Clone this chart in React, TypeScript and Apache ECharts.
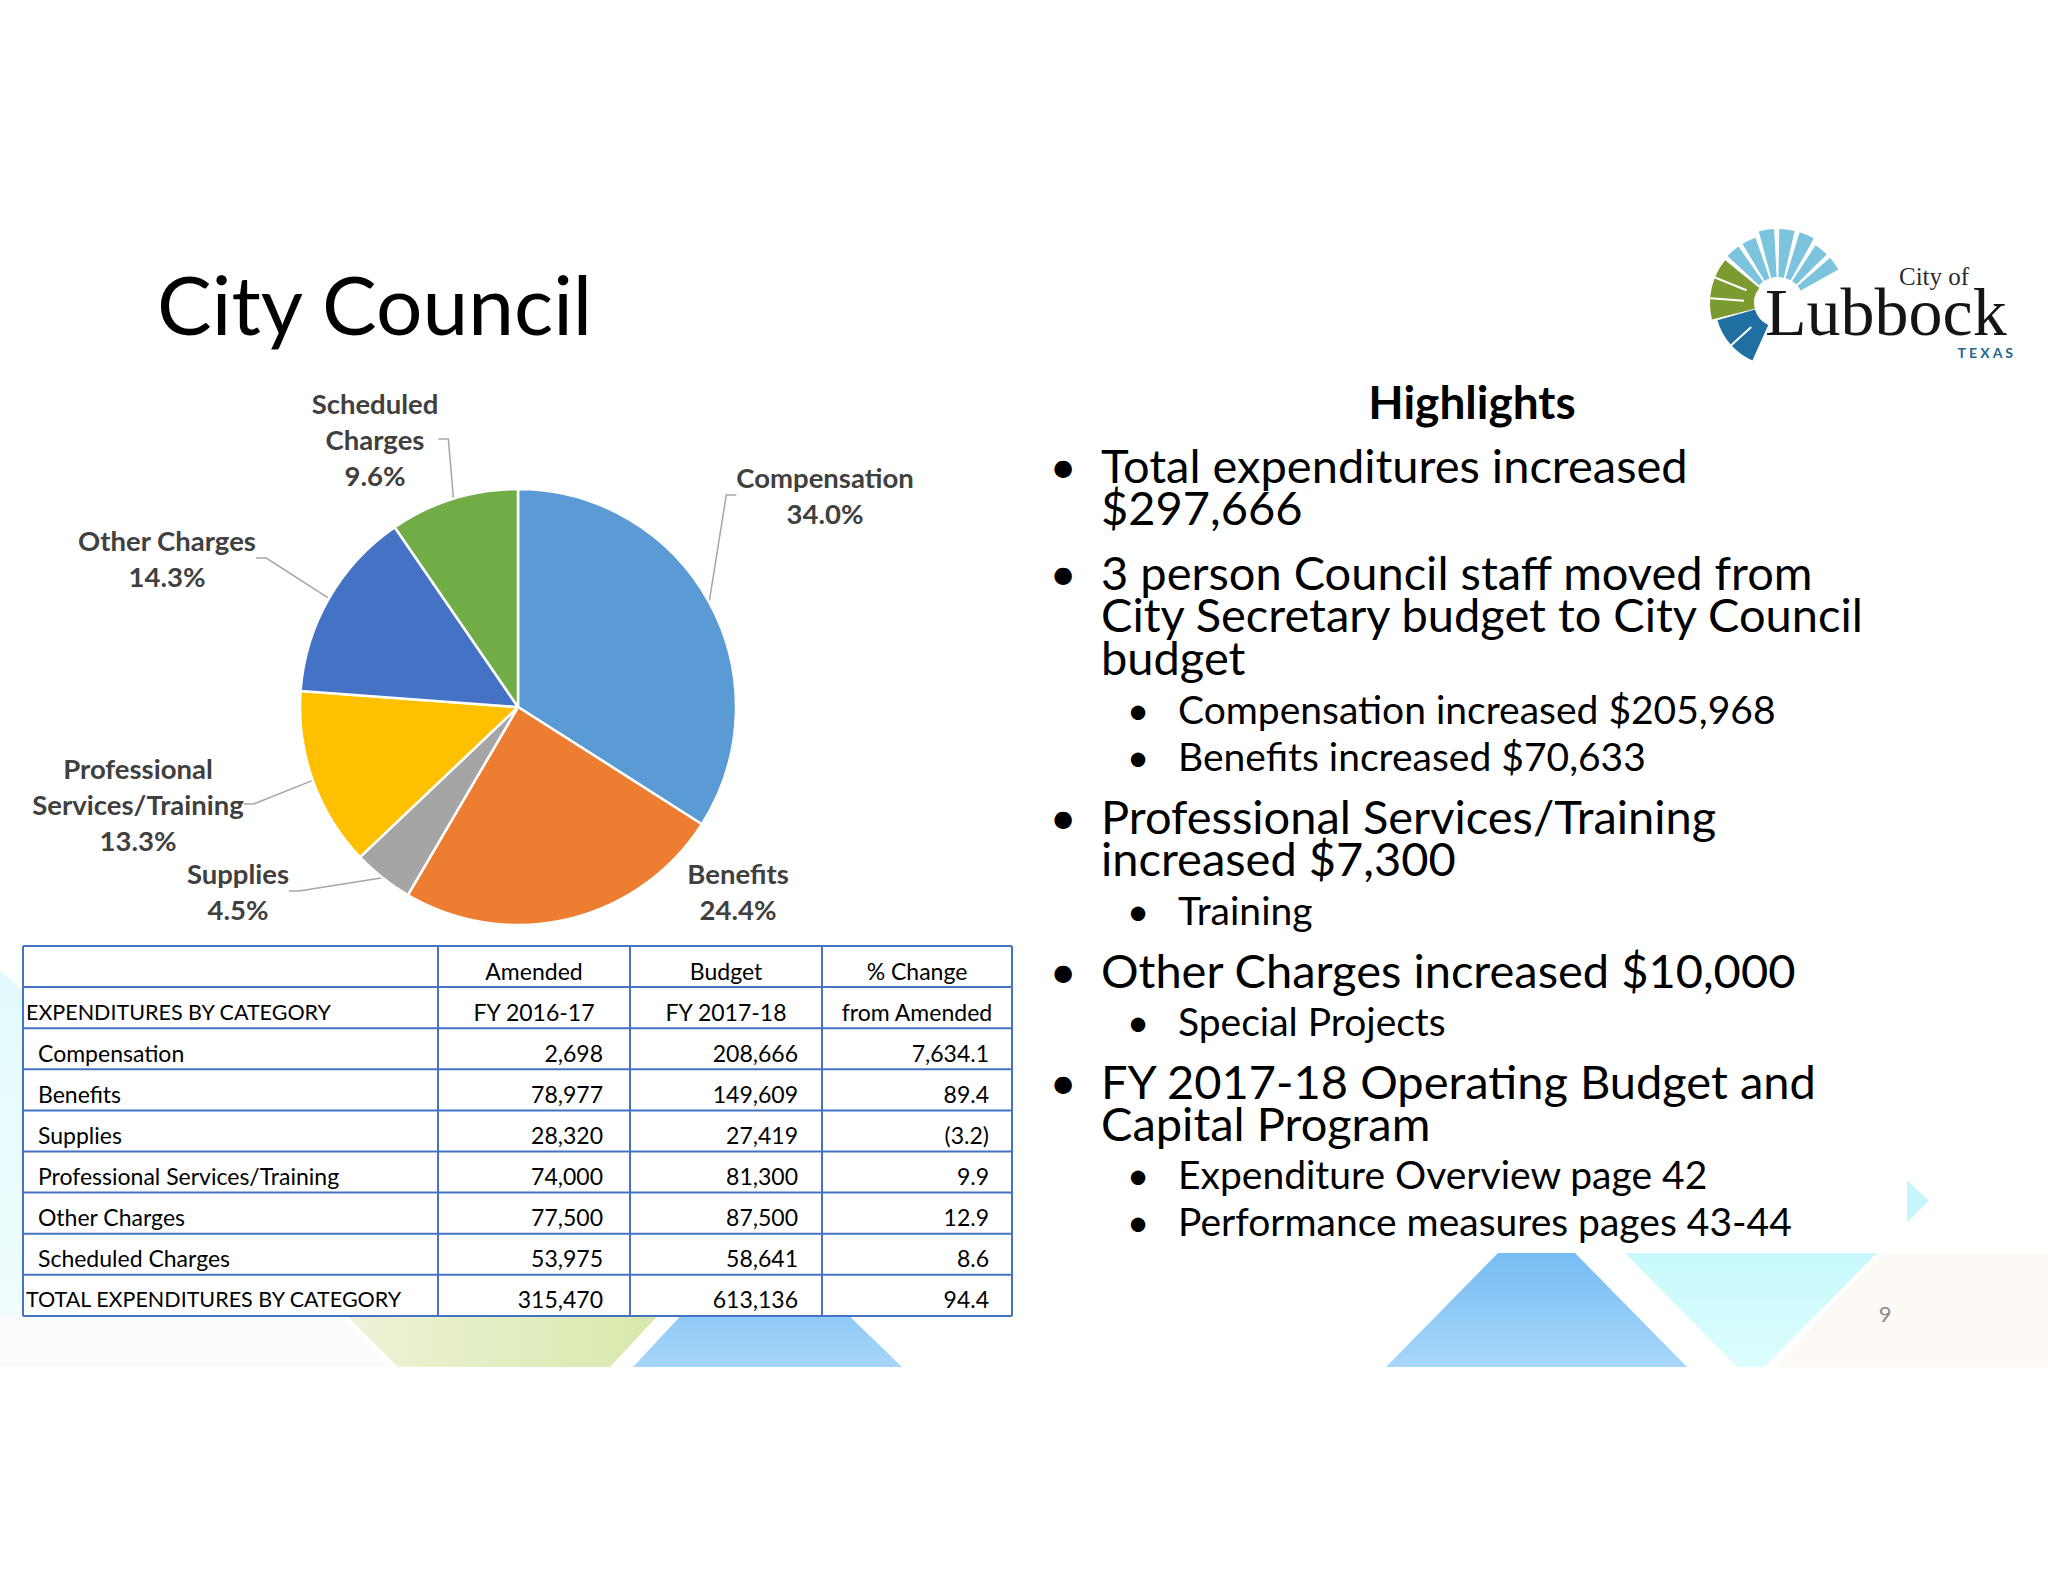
import React, { useEffect, useRef } from "react";
import * as echarts from "echarts";

// ---------- data ----------
const categories = [
  "Compensation",
  "Benefits",
  "Supplies",
  "Professional Services/Training",
  "Other Charges",
  "Scheduled Charges",
];
const pieLabelNames = [
  "Compensation",
  "Benefits",
  "Supplies",
  "Professional\nServices/Training",
  "Other Charges",
  "Scheduled\nCharges",
];
const amendedFY1617 = [2698, 78977, 28320, 74000, 77500, 53975];
const budgetFY1718 = [208666, 149609, 27419, 81300, 87500, 58641];
const pctChange = ["7,634.1", "89.4", "(3.2)", "9.9", "12.9", "8.6"];
const totalRow = ["TOTAL EXPENDITURES BY CATEGORY", "315,470", "613,136", "94.4"];
const headerRow1 = ["", "Amended", "Budget", "% Change"];
const headerRow2 = ["EXPENDITURES BY CATEGORY", "FY 2016-17", "FY 2017-18", "from Amended"];
const pieColors = ["#5B9BD5", "#ED7D31", "#A5A5A5", "#FFC000", "#4472C4", "#70AD47"];

const titleText = "City Council";
const highlightsTitle = "Highlights";
// [paragraph text (wrapped as in the slide), level (1 main / 2 sub)]
const highlightParas: [string, number][] = [
  ["Total expenditures increased\n$297,666", 1],
  ["3 person Council staff moved from\nCity Secretary budget to City Council\nbudget", 1],
  ["Compensation increased $205,968", 2],
  ["Benefits increased $70,633", 2],
  ["Professional Services/Training\nincreased $7,300", 1],
  ["Training", 2],
  ["Other Charges increased $10,000", 1],
  ["Special Projects", 2],
  ["FY 2017-18 Operating Budget and\nCapital Program", 1],
  ["Expenditure Overview page 42", 2],
  ["Performance measures pages 43-44", 2],
];
const pageNumber = "9";

// ---------- layout ----------
const FONT = 'Lato, "Open Sans", sans-serif';
const SERIF = '"Liberation Serif", "DejaVu Serif", serif';
// centre of the first line of each paragraph
const paraY = [465, 572, 709, 756, 816, 910, 970, 1021, 1081, 1174, 1221];
const pieLabelPos = [
  [825, 495],
  [738, 891],
  [238, 891],
  [138, 804],
  [167, 558],
  [375, 439],
];
const tableCols = [23, 438, 630, 822, 1012];
const tableTop = 946;
const rowH = 41.1;

function fmt(n: number) {
  return n.toLocaleString("en-US");
}

function txt(text: string, x: number, y: number, size: number, o: any = {}) {
  const align = o.align || "left";
  const va = o.va || "middle";
  return {
    type: "text",
    x,
    y,
    z: o.z ?? 20,
    style: {
      text,
      fontSize: size,
      fontFamily: o.family || FONT,
      fontWeight: o.weight || "normal",
      fill: o.color || "#000000",
      lineHeight: o.lineHeight,
      textAlign: align,
      align,
      textVerticalAlign: va,
      verticalAlign: va,
    },
  };
}

function buildGraphics() {
  const els: any[] = [];
  const lg = (x2: number, y2: number, c1: string, c2: string) =>
    new echarts.graphic.LinearGradient(0, 0, x2, y2, [
      { offset: 0, color: c1 },
      { offset: 1, color: c2 },
    ]);

  // background decorations
  els.push({ type: "polygon", z: 1, shape: { points: [[0, 970], [22, 990], [22, 1316], [0, 1345]] }, style: { fill: lg(0, 1, "#e2fafd", "#f2fdfe") } });
  els.push({ type: "polygon", z: 1, shape: { points: [[0, 1316], [340, 1316], [390, 1367], [0, 1367]] }, style: { fill: "#fcfbfb" } });
  els.push({ type: "polygon", z: 1, shape: { points: [[281, 1250], [719, 1250], [610, 1367], [398, 1367]] }, style: { fill: lg(1, 0, "#f2f6e2", "#d4e6a2") } });
  els.push({ type: "polygon", z: 1, shape: { points: [[742, 1250], [781, 1250], [902, 1367], [633, 1367]] }, style: { fill: lg(0, 1, "#74baf3", "#a6d6fa") } });
  els.push({ type: "polygon", z: 1, shape: { points: [[1880, 1253], [2048, 1253], [2048, 1367], [1775, 1367]] }, style: { fill: "#fdfaf6" } });
  els.push({ type: "polygon", z: 2, shape: { points: [[1498, 1253], [1575, 1253], [1687, 1367], [1386, 1367]] }, style: { fill: lg(0, 1, "#76bcf3", "#a8d7fb") } });
  els.push({ type: "polygon", z: 2, shape: { points: [[1625, 1253], [1877, 1253], [1764, 1367], [1737, 1367]] }, style: { fill: lg(0, 1, "#c8f9fc", "#dcfdfd") } });
  els.push({ type: "polygon", z: 2, shape: { points: [[1907, 1180], [1929, 1201], [1907, 1222]] }, style: { fill: "#c6f6fc" } });

  // title
  els.push(txt(titleText, 157, 303, 82));

  // logo
  const cx = 1778, cy = 303;
  const rad = (d: number) => (d * Math.PI) / 180;
  const sec = (a1: number, a2: number, r0: number, r: number, fill: string) => ({
    type: "sector",
    z: 5,
    shape: { cx, cy, r0, r, startAngle: rad(-a2), endAngle: rad(-a1), clockwise: true },
    style: { fill },
  });
  const rays = [[29, 41], [45, 57], [61, 73], [77, 89], [93, 105], [109, 121], [125, 137]];
  rays.forEach(([a, b], i) => els.push(sec(a, b, 26, 66 + (i >= 2 && i <= 4 ? 8 : 3), "#7cc4de")));
  els.push(sec(141, 194, 24, 68, "#7b9a30"));
  els.push(sec(196, 246, 24, 63, "#1f6fa3"));
  [158, 176].forEach((a) =>
    els.push({ type: "line", z: 6, shape: { x1: cx + 34 * Math.cos(rad(a)), y1: cy - 34 * Math.sin(rad(a)), x2: cx + 68 * Math.cos(rad(a)), y2: cy - 68 * Math.sin(rad(a)) }, style: { stroke: "#ffffff", lineWidth: 2 } })
  );
  els.push({ type: "line", z: 6, shape: { x1: cx + 36 * Math.cos(rad(222)), y1: cy - 36 * Math.sin(rad(222)), x2: cx + 63 * Math.cos(rad(222)), y2: cy - 63 * Math.sin(rad(222)) }, style: { stroke: "#ffffff", lineWidth: 2 } });
  els.push(txt("City of", 1899, 276, 25, { family: SERIF, color: "#2a2a2a", lineHeight: 18 }));
  els.push(txt("Lubbock", 1765, 312, 68, { family: SERIF, color: "#151515", lineHeight: 44 }));
  els.push(txt("T E X A S", 2013, 352, 14, { weight: "bold", color: "#23688f", align: "right", lineHeight: 11 }));

  // highlights
  els.push(txt(highlightsTitle, 1472, 401, 46, { weight: "bold", align: "center" }));
  highlightParas.forEach(([t, lvl], i) => {
    const y = paraY[i];
    if (lvl === 1) {
      const lh = 42.3;
      els.push(txt("•", 1063, y, 47, { align: "center", lineHeight: lh }));
      els.push(txt(t, 1101, y - lh / 2, 47, { lineHeight: lh, va: "top" }));
    } else {
      const lh = 38;
      els.push(txt("•", 1138, y, 39, { align: "center", lineHeight: lh }));
      els.push(txt(t, 1178, y - lh / 2, 39, { lineHeight: lh, va: "top" }));
    }
  });
  els.push(txt(pageNumber, 1885, 1313, 22, { color: "#8c8c8c", align: "center" }));

  // table
  const nRows = 9;
  const left = tableCols[0], right = tableCols[tableCols.length - 1];
  const bottom = tableTop + rowH * nRows;
  els.push({ type: "rect", z: 10, shape: { x: left, y: tableTop, width: right - left, height: bottom - tableTop }, style: { fill: "#ffffff" } });
  for (let r = 0; r <= nRows; r++) {
    const y = tableTop + r * rowH;
    els.push({ type: "line", z: 12, shape: { x1: left, y1: y, x2: right, y2: y }, style: { stroke: "#4472C4", lineWidth: 2 } });
  }
  tableCols.forEach((x) =>
    els.push({ type: "line", z: 12, shape: { x1: x, y1: tableTop, x2: x, y2: bottom }, style: { stroke: "#4472C4", lineWidth: 2 } })
  );
  const TS = 23;
  const TSU = 21.5; // upper-case labels
  const rowMid = (r: number) => tableTop + r * rowH + rowH / 2 + 4;
  const colCenter = (c: number) => (tableCols[c] + tableCols[c + 1]) / 2;
  [headerRow1, headerRow2].forEach((row, r) => {
    row.forEach((t, c) => {
      if (!t) return;
      if (c === 0) els.push(txt(t, left + 3, rowMid(r), TSU));
      else els.push(txt(t, colCenter(c), rowMid(r), TS, { align: "center" }));
    });
  });
  categories.forEach((name, i) => {
    const r = i + 2;
    els.push(txt(name, left + 15, rowMid(r), TS));
    els.push(txt(fmt(amendedFY1617[i]), tableCols[2] - 27, rowMid(r), TS, { align: "right" }));
    els.push(txt(fmt(budgetFY1718[i]), tableCols[3] - 24, rowMid(r), TS, { align: "right" }));
    els.push(txt(pctChange[i], tableCols[4] - 23, rowMid(r), TS, { align: "right" }));
  });
  els.push(txt(totalRow[0], left + 3, rowMid(8), TSU));
  els.push(txt(totalRow[1], tableCols[2] - 27, rowMid(8), TS, { align: "right" }));
  els.push(txt(totalRow[2], tableCols[3] - 24, rowMid(8), TS, { align: "right" }));
  els.push(txt(totalRow[3], tableCols[4] - 23, rowMid(8), TS, { align: "right" }));

  return els;
}

export default function App() {
  const ref = useRef<HTMLDivElement>(null);
  useEffect(() => {
    if (!ref.current) return;
    const chart = echarts.init(ref.current, undefined, { renderer: "svg" });
    const total = budgetFY1718.reduce((a, b) => a + b, 0);
    chart.setOption({
      animation: false,
      backgroundColor: "#ffffff",
      graphic: { elements: buildGraphics() },
      series: [
        {
          type: "pie",
          center: [518, 707],
          radius: 218,
          startAngle: 90,
          clockwise: true,
          z: 15,
          itemStyle: { borderColor: "#ffffff", borderWidth: 2.5 },
          label: {
            show: true,
            position: "outside",
            formatter: (p: any) =>
              `${pieLabelNames[p.dataIndex]}\n${((budgetFY1718[p.dataIndex] / total) * 100).toFixed(1)}%`,
            fontFamily: FONT,
            fontWeight: "bold",
            fontSize: 27.5,
            lineHeight: 36,
            color: "#404040",
            align: "center",
          },
          labelLine: { show: true, length: 20, length2: 10, lineStyle: { color: "#a6a6a6", width: 1.5 } },
          labelLayout: (params: any) => {
            const p = pieLabelPos[params.dataIndex];
            return { x: p[0], y: p[1], align: "center", verticalAlign: "middle", hideOverlap: false };
          },
          emphasis: { disabled: true },
          data: categories.map((name, i) => ({
            name,
            value: budgetFY1718[i],
            itemStyle: { color: pieColors[i] },
            labelLine: i === 1 ? { show: false } : undefined,
          })),
        },
      ],
    });
    return () => chart.dispose();
  }, []);
  return (
    <div
      ref={ref}
      style={{ position: "absolute", left: 0, top: 0, width: 2048, height: 1582 }}
    />
  );
}
